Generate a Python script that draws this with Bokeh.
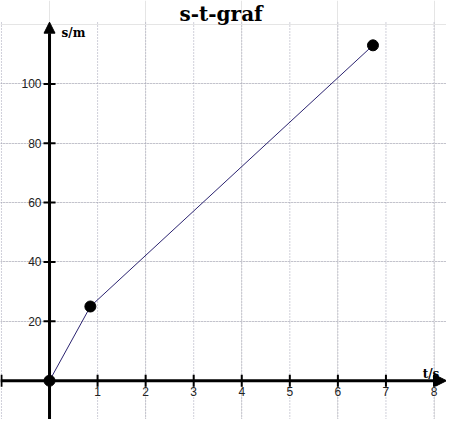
import math
from bokeh.plotting import figure
from bokeh.models import Range1d, Arrow, NormalHead, FixedTicker, ColumnDataSource, Grid
from bokeh.core.properties import value
from bokeh.embed import file_html
from bokeh.resources import INLINE

# data
t_values = [0.0, 0.85, 6.73]
s_values = [0.0, 25.0, 113.0]

x_ticks = [-1, 0, 1, 2, 3, 4, 5, 6, 7, 8]
x_labels = ["1", "2", "3", "4", "5", "6", "7", "8"]
x_label_pos = [1, 2, 3, 4, 5, 6, 7, 8]
y_ticks = [20, 40, 60, 80, 100]
y_labels = ["20", "40", "60", "80", "100"]
title_text = "s-t-graf"

x_lo, x_hi = -1.02, 8.26
y_lo, y_hi = -13.07, 128.1
y_axis_top = 120.8

p = figure(width=446, height=419, x_range=Range1d(x_lo, x_hi), y_range=Range1d(y_lo, y_hi),
           output_backend="svg", toolbar_location=None, min_border=0,
           x_axis_location=None, y_axis_location=None)
p.outline_line_color = None
p.background_fill_color = "white"

# grid
p.segment(x0=x_ticks, y0=[y_lo] * len(x_ticks), x1=x_ticks, y1=[y_axis_top] * len(x_ticks),
          line_color="#a0a0b4", line_dash="1 2", line_width=1)
yg = Grid(dimension=1, ticker=FixedTicker(ticks=y_ticks), grid_line_color="#a0a0b4",
          grid_line_dash="1 2", grid_line_width=1)
p.add_layout(yg, "center")

# axes with arrows
p.add_layout(Arrow(end=NormalHead(size=11, fill_color="black", line_color="black", line_width=1),
                   x_start=x_lo, y_start=0, x_end=x_hi, y_end=0, line_width=3, line_color="black"))
p.add_layout(Arrow(end=NormalHead(size=11, fill_color="black", line_color="black", line_width=1),
                   x_start=0, y_start=y_lo, x_end=0, y_end=y_axis_top, line_width=3, line_color="black"))

# tick marks
p.scatter(x=x_ticks, y=[0] * len(x_ticks), marker="dash", angle=math.pi / 2, size=12,
          line_color="black", line_width=2)
p.scatter(x=[0] * len(y_ticks), y=y_ticks, marker="dash", size=12,
          line_color="black", line_width=2)

# tick labels
p.text(x=x_label_pos, y=[0] * len(x_label_pos), text=x_labels, text_align="center",
       text_baseline="top", y_offset=6, text_font=value("Liberation Sans"),
       text_font_size="12px", text_color="#222222")
p.text(x=[0] * len(y_ticks), y=y_ticks, text=y_labels, text_align="right",
       text_baseline="middle", x_offset=-8, text_font=value("Liberation Sans"),
       text_font_size="12px", text_color="#222222")

# axis names
p.text(x=[0], y=[y_axis_top], text=["s/m"], text_align="left", text_baseline="top",
       x_offset=12, y_offset=4, text_font=value("DejaVu Serif"), text_font_style="bold",
       text_font_size="12px", text_color="black")
p.text(x=[x_ticks[-1]], y=[0], text=["t/s"], text_align="center", text_baseline="alphabetic",
       x_offset=-3, y_offset=-7, text_font=value("DejaVu Serif"), text_font_style="bold",
       text_font_size="12px", text_color="black")

# title
p.text(x=[(x_lo + x_hi) / 2 - 0.05], y=[y_hi], text=[title_text], text_align="center",
       text_baseline="top", y_offset=1, text_font=value("DejaVu Serif"), text_font_style="bold",
       text_font_size="20px", text_color="black")

# data
src = ColumnDataSource(dict(t=t_values, s=s_values))
p.line("t", "s", source=src, line_color="#2b2370", line_width=1)
p.scatter("t", "s", source=src, size=11, fill_color="black", line_color="black")

open("out.html", "w").write(file_html(p, INLINE))
